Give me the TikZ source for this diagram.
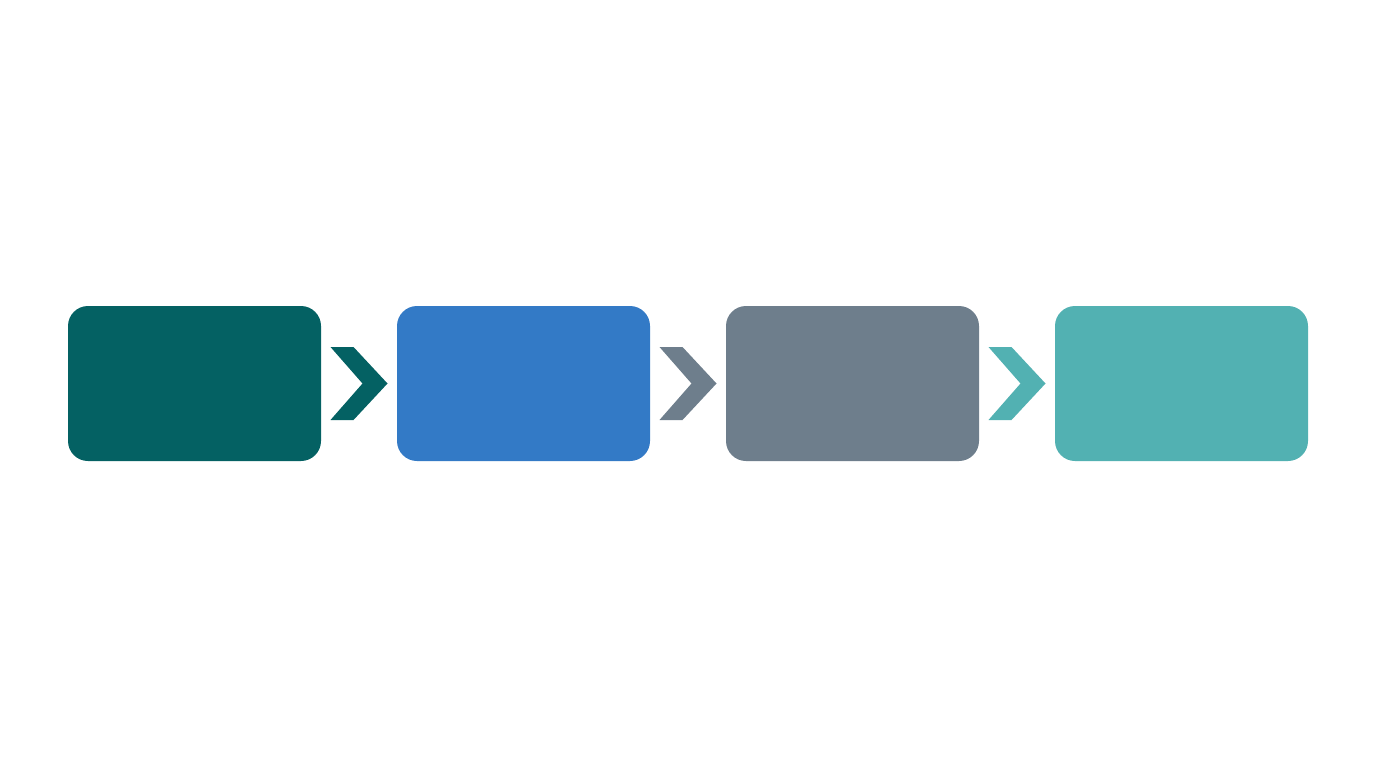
\documentclass[tikz,border=0pt]{standalone}
\usepackage{tikz}
\usetikzlibrary{positioning,calc}
\definecolor{stepteal}{HTML}{046163}
\definecolor{stepblue}{HTML}{337AC6}
\definecolor{stepgray}{HTML}{6E7E8C}
\definecolor{steplight}{HTML}{52B1B2}
\begin{document}
\begin{tikzpicture}[x=0.5pt,y=0.5pt,
  stage/.style={rounded corners=10pt, minimum width=126.5pt, minimum height=77.5pt, inner sep=0pt, outer sep=0pt},
  chev/.pic={\fill[pic actions] (-28.5,36.5) -- (-5.5,36.5) -- (28.5,0) -- (-5.5,-36.5) -- (-28.5,-36.5) -- (3.5,0) -- cycle;}]
\fill[white] (0,0) rectangle (1376,768);
\useasboundingbox (0,0) rectangle (1376,768);
\node[stage, fill=stepteal] (s1) at (194.5,384.5) {};
\node[stage, fill=stepblue, right=38pt of s1] (s2) {};
\node[stage, fill=stepgray, right=38pt of s2] (s3) {};
\node[stage, fill=steplight, right=38pt of s3] (s4) {};
\pic[fill=stepteal] at ($(s1.east)!0.5!(s2.west)$) {chev};
\pic[fill=stepgray] at ($(s2.east)!0.5!(s3.west)$) {chev};
\pic[fill=steplight] at ($(s3.east)!0.5!(s4.west)$) {chev};
\end{tikzpicture}
\end{document}
